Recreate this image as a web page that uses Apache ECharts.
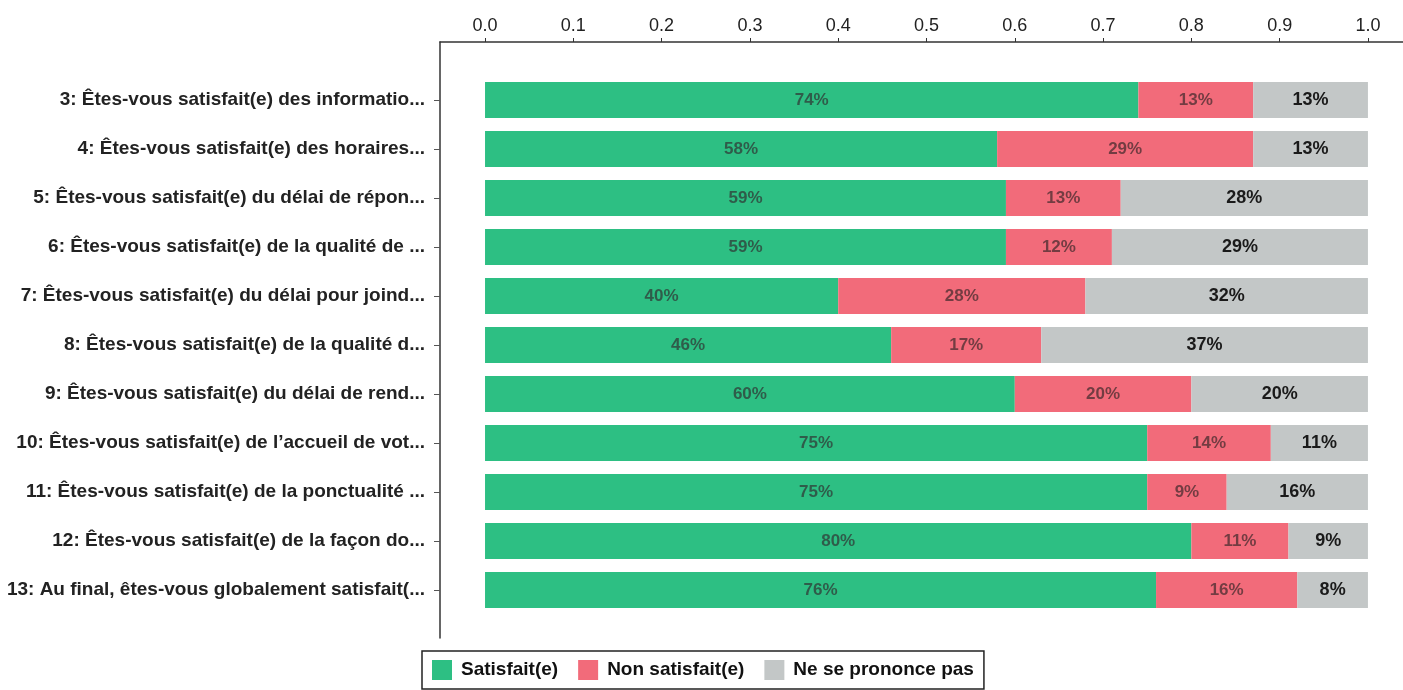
<!DOCTYPE html>
<html>
<head>
<meta charset="utf-8">
<script src="https://cdn.jsdelivr.net/npm/echarts@6/dist/echarts.min.js"></script>
<style>
html,body{margin:0;padding:0;background:#ffffff;}
#chart{width:1403px;height:690px;}
</style>
</head>
<body>
<div id="chart"></div>
<script>
var categories = [
  "3: Êtes-vous satisfait(e) des informatio...",
  "4: Êtes-vous satisfait(e) des horaires...",
  "5: Êtes-vous satisfait(e) du délai de répon...",
  "6: Êtes-vous satisfait(e) de la qualité de ...",
  "7: Êtes-vous satisfait(e) du délai pour joind...",
  "8: Êtes-vous satisfait(e) de la qualité d...",
  "9: Êtes-vous satisfait(e) du délai de rend...",
  "10: Êtes-vous satisfait(e) de l’accueil de vot...",
  "11: Êtes-vous satisfait(e) de la ponctualité ...",
  "12: Êtes-vous satisfait(e) de la façon do...",
  "13: Au final, êtes-vous globalement satisfait(..."
];
var satisfait = [74, 58, 59, 59, 40, 46, 60, 75, 75, 80, 76];
var nonSatisfait = [13, 29, 13, 12, 28, 17, 20, 14, 9, 11, 16];
var neSePrononcePas = [13, 13, 28, 29, 32, 37, 20, 11, 16, 9, 8];
var tickValues = [0, 0.1, 0.2, 0.3, 0.4, 0.5, 0.6, 0.7, 0.8, 0.9, 1.0];
var seriesNames = ["Satisfait(e)", "Non satisfait(e)", "Ne se prononce pas"];

var FONT = "Liberation Sans, Arial, sans-serif";
var XMIN = -0.051, XMAX = 1.0397;

function toFrac(arr){ return arr.map(function(v){ return v / 100; }); }
function pctLabel(p){ return Math.round(p.value * 100) + '%'; }

var chart = echarts.init(document.getElementById('chart'));
chart.setOption({
  animation: false,
  backgroundColor: '#ffffff',
  textStyle: { fontFamily: FONT },
  legend: {
    data: seriesNames,
    left: 422, top: 651,
    padding: [9, 10, 9, 10],
    itemWidth: 20, itemHeight: 20, itemGap: 20,
    borderColor: '#222', borderWidth: 1.5,
    icon: 'rect',
    textStyle: { fontFamily: FONT, fontSize: 19, fontWeight: 'bold', color: '#111', padding: [0, 0, 0, 4] }
  },
  grid: [
    { left: 440, right: 0, top: 75.5, bottom: 75.5 },
    { left: 440, right: 0, top: 42, bottom: 52 }
  ],
  xAxis: [
    { gridIndex: 0, type: 'value', min: XMIN, max: XMAX, show: false },
    {
      gridIndex: 1, type: 'value', position: 'top', min: XMIN, max: XMAX,
      axisLine: { show: true, onZero: false, lineStyle: { color: '#333', width: 1.5 } },
      axisTick: { show: true, length: 4, customValues: tickValues, lineStyle: { color: '#333' } },
      axisLabel: {
        customValues: tickValues, margin: 7,
        formatter: function(v){ return v.toFixed(1); },
        fontFamily: FONT, fontSize: 18, color: '#222'
      },
      splitLine: { show: false }
    }
  ],
  yAxis: [
    {
      gridIndex: 0, type: 'category', data: categories, inverse: true,
      axisLine: { show: false, onZero: false },
      axisTick: { show: true, alignWithLabel: true, length: 6, lineStyle: { color: '#555' } },
      axisLabel: { margin: 15, fontFamily: FONT, fontSize: 19, fontWeight: 'bold', color: '#222' }
    },
    {
      gridIndex: 1, type: 'value', min: 0, max: 1,
      axisLine: { show: true, onZero: false, lineStyle: { color: '#333', width: 1.5 } },
      axisTick: { show: false }, axisLabel: { show: false }, splitLine: { show: false }
    }
  ],
  series: [
    {
      name: seriesNames[0], type: 'bar', stack: 'total', barWidth: 36,
      xAxisIndex: 0, yAxisIndex: 0,
      data: toFrac(satisfait),
      itemStyle: { color: '#2dbf83' },
      label: { show: true, position: 'inside', formatter: pctLabel, fontFamily: FONT, fontSize: 17, fontWeight: 'bold', color: '#2f5c4a' }
    },
    {
      name: seriesNames[1], type: 'bar', stack: 'total', barWidth: 36,
      xAxisIndex: 0, yAxisIndex: 0,
      data: toFrac(nonSatisfait),
      itemStyle: { color: '#f26b7a' },
      label: { show: true, position: 'inside', formatter: pctLabel, fontFamily: FONT, fontSize: 17, fontWeight: 'bold', color: '#733c42' }
    },
    {
      name: seriesNames[2], type: 'bar', stack: 'total', barWidth: 36,
      xAxisIndex: 0, yAxisIndex: 0,
      data: toFrac(neSePrononcePas),
      itemStyle: { color: '#c3c7c7' },
      label: { show: true, position: 'inside', formatter: pctLabel, fontFamily: FONT, fontSize: 18, fontWeight: 'bold', color: '#1a1a1a' }
    }
  ]
});
</script>
</body>
</html>
